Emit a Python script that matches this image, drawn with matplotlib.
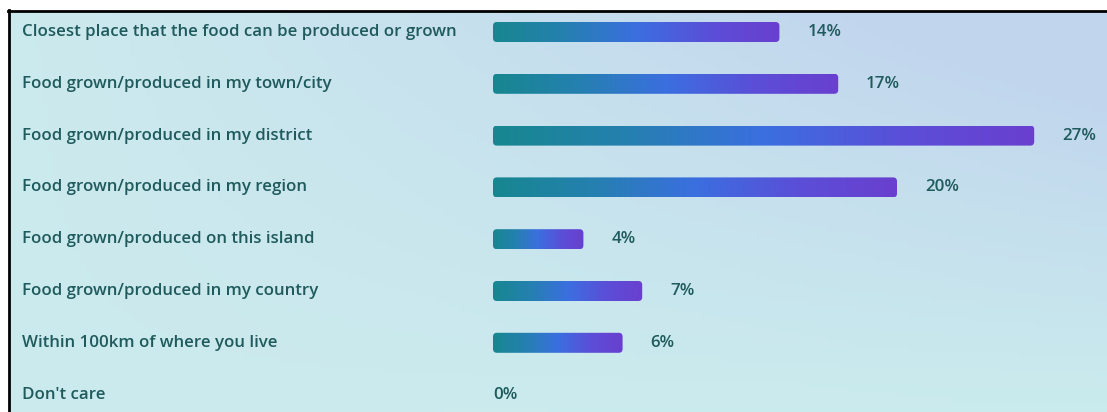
import numpy as np
import matplotlib.pyplot as plt
from matplotlib.patches import FancyBboxPatch
from matplotlib.colors import LinearSegmentedColormap
from matplotlib.transforms import blended_transform_factory

# Survey answers and share of respondents (%)
categories = [
    "Closest place that the food can be produced or grown",
    "Food grown/produced in my town/city",
    "Food grown/produced in my district",
    "Food grown/produced in my region",
    "Food grown/produced on this island",
    "Food grown/produced in my country",
    "Within 100km of where you live",
    "Don't care",
]
values = [14, 17, 27, 20, 4, 7, 6, 0]

W, H, DPI = 1107, 412, 100
fig = plt.figure(figsize=(W / DPI, H / DPI), dpi=DPI)
fig.patch.set_facecolor("white")

# panel background: soft cyan-to-blue wash
bg = fig.add_axes([9 / W, 0, 1 - 9 / W, 1 - 11 / H])
bg.set_axis_off()
gx, gy = np.meshgrid(np.linspace(0, 1, 200), np.linspace(0, 1, 80))
c_left = np.array([0.80, 0.92, 0.93])
c_topright = np.array([0.76, 0.84, 0.93])
c_botright = np.array([0.78, 0.93, 0.93])
w_tr = np.clip(gx * (1 - gy) * 1.3, 0, 1)[..., None]
w_br = np.clip(gx * gy * 0.8, 0, 1)[..., None]
img = c_left * (1 - w_tr - w_br * 0.5) + c_topright * w_tr + c_botright * w_br * 0.5
bg.imshow(np.clip(img, 0, 1), aspect="auto", extent=[0, 1, 0, 1], origin="upper")
bg.set_xlim(0, 1)
bg.set_ylim(0, 1)

# black frame lines on top and left
fig.add_artist(plt.Line2D([8 / W, 1], [1 - 10.5 / H] * 2, color="black", lw=2, transform=fig.transFigure))
fig.add_artist(plt.Line2D([8.5 / W] * 2, [0, 1 - 10 / H], color="black", lw=2, transform=fig.transFigure))

# bar area
x0_px, px_per_pct = 493, 19.6
cap = 12 / px_per_pct          # rounded end cap added to every non-zero bar
row0_px, row_step = 32, 51.8
ax = fig.add_axes([x0_px / W, 0, 1 - x0_px / W, 1 - 11 / H])
ax.set_xlim(0, (W - x0_px) / px_per_pct)
top = -(row0_px - 11) / row_step
bottom = 7 + (H - (row0_px + 7 * row_step)) / row_step
ax.set_ylim(bottom, top)
ax.patch.set_alpha(0)
ax.set_axis_off()

cmap = LinearSegmentedColormap.from_list("bar", ["#17878f", "#2580b0", "#3b6fe0", "#5a4fd8", "#6a3fcf"])
grad = np.linspace(0, 1, 256)[None, :]
bar_h = 20 / row_step
text_color = "#1f5a5c"
font = "Open Sans"
fs = 12.2

widths = [v + cap if v > 0 else 0 for v in values]
bars = ax.barh(range(len(values)), widths, height=bar_h, color="none")
for bar, v in zip(bars, values):
    if v <= 0:
        continue
    x, y, w, h = bar.get_x(), bar.get_y(), bar.get_width(), bar.get_height()
    clip = FancyBboxPatch((x, y), w, h, boxstyle="round,pad=0,rounding_size=0.2",
                          mutation_aspect=px_per_pct / row_step, transform=ax.transData,
                          facecolor="none", edgecolor="none")
    ax.add_patch(clip)
    im = ax.imshow(grad, cmap=cmap, aspect="auto", extent=[x, x + w, y + h, y], zorder=2)
    im.set_clip_path(clip)

# value labels
for i, (v, w) in enumerate(zip(values, widths)):
    xpos = w + 28 / px_per_pct if v > 0 else 0
    ax.text(xpos, i, f"{v}%", ha="left", va="center", fontsize=fs,
            color=text_color, family=font, fontweight="semibold")

# category labels on the left
tr = blended_transform_factory(fig.transFigure, ax.transData)
for i, c in enumerate(categories):
    fig.text(22 / W, i, c, transform=tr, ha="left", va="center", fontsize=fs,
             color=text_color, family=font, fontweight="semibold")

fig.savefig("out.png", dpi=DPI)
